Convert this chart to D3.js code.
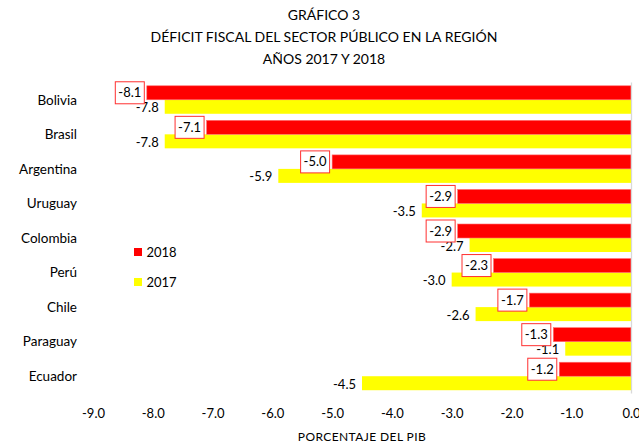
<!DOCTYPE html>
<html>
<head>
<meta charset="utf-8">
<script src="https://cdn.jsdelivr.net/npm/d3@7"></script>
<style>
  body { margin: 0; background: #fff; }
  svg { font-family: Lato, "Open Sans", sans-serif; }
</style>
</head>
<body>
<svg id="chart" width="639" height="445"></svg>
<script>
'use strict';

var titleLines = ['GRÁFICO 3', 'DÉFICIT FISCAL DEL SECTOR PÚBLICO EN LA REGIÓN', 'AÑOS 2017 Y 2018'];
var countries = ['Bolivia', 'Brasil', 'Argentina', 'Uruguay', 'Colombia', 'Perú', 'Chile', 'Paraguay', 'Ecuador'];
var series = ['2018', '2017'];
var values2018 = [-8.1, -7.1, -5.0, -2.9, -2.9, -2.3, -1.7, -1.3, -1.2];
var values2017 = [-7.8, -7.8, -5.9, -3.5, -2.7, -3.0, -2.6, -1.1, -4.5];
var xTicks = [-9, -8, -7, -6, -5, -4, -3, -2, -1, 0];
var axisTitle = 'PORCENTAJE DEL PIB';
var colors = { '2018': '#ff0000', '2017': '#ffff00' };

// plain hyphen for negatives, like the original
var fmt = d3.formatLocale({ decimal: '.', thousands: ',', grouping: [3], currency: ['', ''], minus: '-' }).format('.1f');

var svg = d3.select('#chart');

var x = d3.scaleLinear().domain([-9, 0]).range([93, 631]);
var y = d3.scaleBand().domain(countries).range([82.5, 393.5]).paddingInner(0.19).paddingOuter(0.095);
var ySub = d3.scaleBand().domain(series).range([0, y.bandwidth()]);

// title
svg.append('g').selectAll('text')
  .data(titleLines)
  .enter().append('text')
  .attr('x', 324)
  .attr('y', function(d, i) { return 20 + i * 22; })
  .attr('text-anchor', 'middle')
  .style('font-size', '14px')
  .attr('fill', '#000')
  .text(function(d) { return d; });

var rows = countries.map(function(c, i) {
  return { country: c, v2018: values2018[i], v2017: values2017[i] };
});

// bars
var groups = svg.append('g').selectAll('g')
  .data(rows)
  .enter().append('g')
  .attr('transform', function(d) { return 'translate(0,' + y(d.country) + ')'; });

groups.append('rect')
  .attr('x', function(d) { return x(d.v2017); })
  .attr('y', ySub('2017'))
  .attr('width', function(d) { return x(0) - x(d.v2017); })
  .attr('height', ySub.bandwidth())
  .attr('fill', colors['2017']);

groups.append('rect')
  .attr('x', function(d) { return x(d.v2018); })
  .attr('y', ySub('2018'))
  .attr('width', function(d) { return x(0) - x(d.v2018); })
  .attr('height', ySub.bandwidth())
  .attr('fill', colors['2018'])
  .attr('stroke', '#ff7070')
  .attr('stroke-width', 0.6);

// zero line on the right
svg.append('line')
  .attr('x1', x(0) + 0.5).attr('x2', x(0) + 0.5)
  .attr('y1', 82.5).attr('y2', 393.5)
  .attr('stroke', '#d9d9d9')
  .attr('stroke-width', 1.3);

// 2017 labels, plain
groups.append('text')
  .attr('x', function(d) { return x(d.v2017) - 6; })
  .attr('y', ySub('2017') + ySub.bandwidth() / 2 + 1)
  .attr('dy', '0.35em')
  .attr('text-anchor', 'end')
  .style('font-size', '13px')
  .text(function(d) { return fmt(d.v2017); });

// 2018 labels, boxed (drawn on top so they cover what lies under)
var boxed = groups.append('g')
  .attr('transform', function(d) {
    return 'translate(' + (x(d.v2018) - 31.5) + ',' + (ySub('2018') + ySub.bandwidth() / 2 - 11) + ')';
  });

boxed.append('rect')
  .attr('width', 29)
  .attr('height', 22)
  .attr('fill', '#fff')
  .attr('stroke', '#ff3030')
  .attr('stroke-width', 1);

boxed.append('text')
  .attr('x', 14.5)
  .attr('y', 11)
  .attr('dy', '0.35em')
  .attr('text-anchor', 'middle')
  .style('font-size', '13px')
  .text(function(d) { return fmt(d.v2018); });

// category labels
svg.append('g').selectAll('text')
  .data(countries)
  .enter().append('text')
  .attr('x', 77)
  .attr('y', function(d) { return y(d) + y.bandwidth() / 2; })
  .attr('dy', '0.35em')
  .attr('text-anchor', 'end')
  .style('font-size', '13.5px')
  .text(function(d) { return d; });

// x axis
var xAxis = d3.axisBottom(x)
  .tickValues(xTicks)
  .tickSize(0)
  .tickPadding(0)
  .tickFormat(fmt);

var axisG = svg.append('g')
  .attr('transform', 'translate(0,409)')
  .call(xAxis);
axisG.select('.domain').remove();
axisG.selectAll('text')
  .style('font-size', '13px')
  .style('font-family', 'Lato, "Open Sans", sans-serif')
  .attr('fill', '#000');

svg.append('text')
  .attr('x', (x(-9) + x(0)) / 2)
  .attr('y', 441)
  .attr('text-anchor', 'middle')
  .style('font-size', '12px')
  .style('letter-spacing', '0.4px')
  .text(axisTitle);

// legend
var legend = svg.append('g').selectAll('g')
  .data(series)
  .enter().append('g')
  .attr('transform', function(d, i) { return 'translate(134,' + (248 + i * 30) + ')'; });

legend.append('rect')
  .attr('width', 8)
  .attr('height', 8)
  .attr('fill', function(d) { return colors[d]; });

legend.append('text')
  .attr('x', 12.5)
  .attr('y', 4)
  .attr('dy', '0.35em')
  .style('font-size', '13px')
  .text(function(d) { return d; });
</script>
</body>
</html>
